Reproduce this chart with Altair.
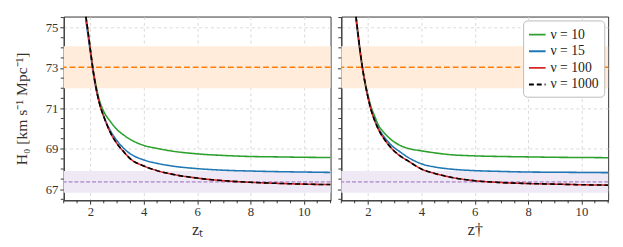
import altair as alt
import pandas as pd

series_names = ["ν = 10", "ν = 15", "ν = 100", "ν = 1000"]
series_colors = ["#2ca02c", "#1f77b4", "#d62728", "#000000"]
series_dash = [[1, 0], [1, 0], [1, 0], [5, 3]]

left_z = [1.83, 1.9, 2.0, 2.1, 2.2, 2.35, 2.5, 2.75, 3.0, 3.25, 3.5, 4.0, 4.5, 5.0, 6.0, 7.0, 8.0, 9.0, 10.0, 11.0]
left_nu10 = [75.55, 74.9, 73.9, 72.95, 72.2, 71.35, 70.85, 70.35, 69.95, 69.68, 69.46, 69.17, 69.02, 68.9, 68.75, 68.67, 68.62, 68.6, 68.58, 68.57]
left_nu15 = [75.35, 74.7, 73.75, 72.8, 72.05, 71.2, 70.62, 69.9, 69.4, 69.02, 68.75, 68.45, 68.28, 68.16, 68.02, 67.94, 67.9, 67.87, 67.85, 67.83]
left_nu100 = [75.55, 74.9, 73.9, 72.9, 72.1, 71.2, 70.6, 69.8, 69.25, 68.85, 68.5, 68.15, 67.92, 67.76, 67.55, 67.42, 67.34, 67.29, 67.25, 67.23]
left_nu1000 = [75.55, 74.9, 73.9, 72.9, 72.1, 71.2, 70.6, 69.8, 69.25, 68.85, 68.5, 68.15, 67.92, 67.76, 67.55, 67.42, 67.34, 67.29, 67.25, 67.23]

right_z = [1.55, 1.6, 1.7, 1.8, 1.9, 2.0, 2.1, 2.25, 2.4, 2.6, 2.9, 3.2, 3.5, 4.0, 4.5, 5.0, 6.0, 7.0, 8.0, 9.0, 10.0, 11.0]
right_nu10 = [75.55, 75.0, 73.9, 72.98, 72.25, 71.65, 71.15, 70.62, 70.15, 69.8, 69.42, 69.17, 69.02, 68.9, 68.8, 68.72, 68.65, 68.62, 68.6, 68.58, 68.57, 68.56]
right_nu15 = [75.4, 74.85, 73.8, 72.9, 72.15, 71.55, 71.02, 70.45, 70.0, 69.6, 69.15, 68.85, 68.58, 68.26, 68.1, 68.01, 67.92, 67.88, 67.85, 67.84, 67.83, 67.82]
right_nu100 = [75.55, 75.0, 73.9, 72.95, 72.2, 71.55, 71.0, 70.4, 69.94, 69.5, 69.0, 68.65, 68.4, 68.0, 67.78, 67.62, 67.42, 67.33, 67.28, 67.25, 67.22, 67.2]
right_nu1000 = [75.55, 75.0, 73.9, 72.95, 72.2, 71.55, 71.0, 70.4, 69.94, 69.5, 69.0, 68.65, 68.4, 68.0, 67.78, 67.62, 67.42, 67.33, 67.28, 67.25, 67.22, 67.2]

shoes_mean, shoes_err = 73.04, 1.04
planck_mean, planck_err = 67.36, 0.54
band_colors = ["#ffecdb", "#efe8f5"]

x_domain = [1, 11]
y_domain = [66.45, 75.55]
x_major = [2, 4, 6, 8, 10]
y_major = [67, 69, 71, 73, 75]
x_minor = [1, 1.5, 2.5, 3, 3.5, 4.5, 5, 5.5, 6.5, 7, 7.5, 8.5, 9, 9.5, 10.5, 11]
y_minor = [66.5, 67.5, 68, 68.5, 69.5, 70, 70.5, 71.5, 72, 72.5, 73.5, 74, 74.5, 75.5]

FONT = "Liberation Serif"
W, H = 273, 188
AX = "#333333"


def long_df(z, cols):
    rows = []
    for name, vals in zip(series_names, cols):
        for zz, v in zip(z, vals):
            rows.append({"z": zz, "H0": v, "series": name})
    return pd.DataFrame(rows)


def panel(z, cols, xtitle, show_ylabels, show_legend):
    xs = alt.Scale(domain=x_domain, nice=False, zero=False)
    ys = alt.Scale(domain=y_domain, nice=False, zero=False)
    bands = pd.DataFrame({
        "lo": [shoes_mean - shoes_err, planck_mean - planck_err],
        "hi": [shoes_mean + shoes_err, planck_mean + planck_err],
        "x0": [x_domain[0], x_domain[0]],
        "x1": [x_domain[1], x_domain[1]],
        "c": band_colors,
    })
    band = alt.Chart(bands).mark_rect().encode(
        x=alt.X("x0:Q", scale=xs, axis=alt.Axis(values=x_major, title=xtitle, grid=True, tickSize=4)),
        x2="x1:Q",
        y=alt.Y("lo:Q", scale=ys,
                axis=alt.Axis(values=y_major, title="H₀ [km s⁻¹ Mpc⁻¹]" if show_ylabels else None,
                              labels=show_ylabels, grid=True, tickSize=4)),
        y2="hi:Q",
        fill=alt.Fill("c:N", scale=None),
    )
    shoes = alt.Chart(pd.DataFrame({"y": [shoes_mean]})).mark_rule(
        color="#ff7f0e", strokeWidth=1.5, strokeDash=[6, 3]).encode(y=alt.Y("y:Q", scale=ys))
    planck = alt.Chart(pd.DataFrame({"y": [planck_mean]})).mark_rule(
        color="#9467bd", strokeWidth=1, strokeDash=[4, 2]).encode(y=alt.Y("y:Q", scale=ys))
    df = long_df(z, cols)
    leg = alt.Legend(title=None, orient="top-right", offset=4, symbolType="stroke",
                     symbolSize=289, symbolStrokeWidth=2, symbolOpacity=1,
                     labelFont=FONT, labelFontSize=14, labelColor="#222222",
                     fillColor="white", strokeColor="#bbbbbb", padding=5, cornerRadius=4,
                     rowPadding=0) if show_legend else None
    lines = alt.Chart(df).mark_line(strokeWidth=1.6, interpolate="monotone", clip=True).encode(
        x=alt.X("z:Q", scale=xs),
        y=alt.Y("H0:Q", scale=ys),
        color=alt.Color("series:N", scale=alt.Scale(domain=series_names, range=series_colors), legend=leg),
        strokeDash=alt.StrokeDash("series:N", scale=alt.Scale(domain=series_names, range=series_dash), legend=leg),
        order=alt.Order("z:Q"),
    )
    xminor = alt.Chart(pd.DataFrame({"m": x_minor})).mark_tick(
        orient="vertical", size=3, thickness=1, color=AX, opacity=1, yOffset=1.5).encode(
        x=alt.X("m:Q", scale=xs), y=alt.YDatum(y_domain[0]))
    yminor = alt.Chart(pd.DataFrame({"m": y_minor})).mark_tick(
        orient="horizontal", size=3, thickness=1, color=AX, opacity=1, xOffset=-1.5).encode(
        y=alt.Y("m:Q", scale=ys), x=alt.XDatum(x_domain[0]))
    return alt.layer(band, shoes, planck, lines, xminor, yminor).properties(width=W, height=H)


left = panel(left_z, [left_nu10, left_nu15, left_nu100, left_nu1000], "zₜ", True, False)
right = panel(right_z, [right_nu10, right_nu15, right_nu100, right_nu1000], "z†", False, True)

chart = alt.hconcat(left, right, spacing=4).resolve_scale(
    color="independent", strokeDash="independent"
).resolve_legend(color="independent", strokeDash="independent").configure_view(
    stroke=AX, strokeWidth=1).configure_axis(
    labelFont=FONT, titleFont=FONT, labelFontSize=13, titleFontSize=16, titleFontWeight="normal",
    gridColor="#d0d0d0", gridDash=[3, 3], gridWidth=0.8, domainColor=AX,
    tickColor=AX, labelColor=AX, titleColor=AX, labelPadding=2,
).configure_axisX(titleFontSize=17, titlePadding=3).configure_axisY(titlePadding=16)

chart.save("out.html", embed_options={"renderer": "svg", "actions": False})
